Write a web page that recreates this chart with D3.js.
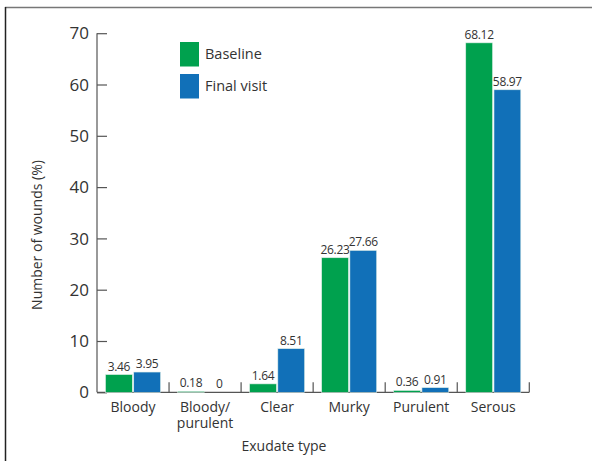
<!DOCTYPE html>
<html><head><meta charset="utf-8">
<script src="https://cdn.jsdelivr.net/npm/d3@7"></script>
<style>body{margin:0;background:#fff;} text{font-family:"Open Sans","Noto Sans",sans-serif;fill:#333;}</style>
</head><body><svg id="c" width="592" height="461"></svg>
<script>
const categories = ["Bloody", "Bloody/\npurulent", "Clear", "Murky", "Purulent", "Serous"];
const baseline = [3.46, 0.18, 1.64, 26.23, 0.36, 68.12];
const finalVisit = [3.95, 0, 8.51, 27.66, 0.91, 58.97];
const baselineLabels = ["3.46", "0.18", "1.64", "26.23", "0.36", "68.12"];
const finalLabels = ["3.95", "0", "8.51", "27.66", "0.91", "58.97"];
const yTicks = [0, 10, 20, 30, 40, 50, 60, 70];
const seriesNames = ["Baseline", "Final visit"];
const colors = ["#00a14e", "#1170b8"];

const svg = d3.select("#c");
// frame
svg.append("line").attr("x1",5).attr("x2",592).attr("y1",7.5).attr("y2",7.5).attr("stroke","#777").attr("stroke-width",1.5);
svg.append("line").attr("x1",5.5).attr("x2",5.5).attr("y1",7).attr("y2",461).attr("stroke","#222").attr("stroke-width",1.5);

const x0 = 97, x1 = 529.3;
const y = d3.scaleLinear().domain([0,70]).range([392.3, 33.2]);
const x = d3.scaleBand().domain(categories).range([x0, x1]).paddingInner(0).paddingOuter(0);
const xs = d3.scaleBand().domain(seriesNames).range([8.5, x.bandwidth()-8.5]).paddingInner(0.05);

const g = svg.append("g");
// y axis
const yAxis = d3.axisRight(y).tickValues(yTicks).tickSize(10).tickFormat("");
const ya = g.append("g").attr("transform",`translate(${x0},0)`).call(yAxis);
ya.select(".domain").remove();
ya.selectAll("line").attr("stroke","#555").attr("stroke-width",1.2);
g.append("line").attr("x1",x0).attr("x2",x0).attr("y1",y(70)).attr("y2",y(0)).attr("stroke","#555").attr("stroke-width",1.2);
g.selectAll(".ytl").data(yTicks).join("text").attr("class","ytl")
  .attr("x",89).attr("y",d=>y(d)).attr("dy","0.36em").attr("text-anchor","end")
  .attr("font-size",17).text(d=>d);

// x axis
g.append("line").attr("x1",x0).attr("x2",x1).attr("y1",y(0)).attr("y2",y(0)).attr("stroke","#555").attr("stroke-width",1.2);
const sepTicks = categories.slice(1).map(c=>x(c)).concat([x1]);
g.selectAll(".xt").data(sepTicks).join("line").attr("class","xt")
  .attr("x1",d=>d).attr("x2",d=>d).attr("y1",y(0)).attr("y2",y(0)-10).attr("stroke","#555").attr("stroke-width",1.2);

// bars
const series = [baseline, finalVisit];
const labels = [baselineLabels, finalLabels];
series.forEach((vals, si) => {
  g.selectAll(".bar"+si).data(vals).join("rect").attr("class","bar"+si)
    .attr("x",(d,i)=>x(categories[i])+xs(seriesNames[si]))
    .attr("width",xs.bandwidth())
    .attr("y",d=>y(d)).attr("height",d=>y(0)-y(d))
    .attr("fill",colors[si]).attr("stroke","#dfeee8").attr("stroke-width",0.6);
  g.selectAll(".lab"+si).data(vals).join("text").attr("class","lab"+si)
    .attr("x",(d,i)=>x(categories[i])+xs(seriesNames[si])+xs.bandwidth()/2)
    .attr("y",d=>y(d)-4).attr("text-anchor","middle").attr("font-size",12)
    .attr("letter-spacing",-0.3)
    .text((d,i)=>labels[si][i]);
});

// category labels (one text per line)
categories.forEach(c => {
  c.split("\n").forEach((l,i) => {
    g.append("text").attr("x",x(c)+x.bandwidth()/2).attr("y",411.5+i*16.5)
      .attr("text-anchor","middle").attr("font-size",14).text(l);
  });
});

// axis titles
svg.append("text").attr("x",284).attr("y",451).attr("text-anchor","middle").attr("font-size",14).text("Exudate type");
svg.append("text").attr("transform","translate(42,235) rotate(-90)").attr("text-anchor","middle").attr("font-size",14).text("Number of wounds (%)");

// legend
seriesNames.forEach((s,i)=>{
  svg.append("rect").attr("x",180).attr("y",42+i*32).attr("width",19).attr("height",24.5).attr("fill",colors[i]);
  svg.append("text").attr("x",205).attr("y",54+i*32).attr("dy","0.36em").attr("font-size",14.5).text(s);
});
</script></body></html>
